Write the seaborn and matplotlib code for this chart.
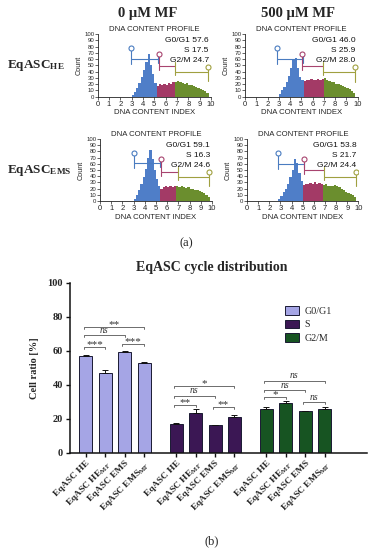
import numpy as np
import pandas as pd
import matplotlib
matplotlib.use("Agg")
import matplotlib.pyplot as plt
import seaborn as sns

sns.set_theme(style="ticks")
plt.rcParams['font.family'] = ['Liberation Sans', 'DejaVu Sans']
plt.rcParams['mathtext.fontset'] = 'custom'
plt.rcParams['mathtext.rm'] = 'Liberation Serif'
plt.rcParams['mathtext.bf'] = 'Liberation Serif:bold'
plt.rcParams['mathtext.it'] = 'Liberation Serif:italic'
SERIF = 'Liberation Serif'

# ---------------- DATA ----------------
# histogram bins (DNA content index), width 0.2 from 2.8 to 9.8
hist_edges = [round(2.8 + 0.2 * i, 2) for i in range(36)]
hist_he_0 = [0, 3, 8, 14, 22, 32, 42, 55, 68, 50, 36, 22, 17, 20, 18, 21, 19, 22,
             20, 24, 23, 25, 23, 22, 21, 22, 19, 18, 17, 15, 14, 13, 11, 9, 6]
hist_he_500 = [0, 4, 10, 16, 24, 33, 45, 60, 62, 45, 32, 26, 25, 27, 26, 28, 26, 27,
               28, 27, 29, 30, 27, 25, 24, 23, 21, 20, 19, 17, 15, 14, 12, 9, 6]
hist_ems_0 = [0, 4, 10, 18, 27, 38, 52, 70, 82, 68, 50, 35, 24, 20, 22, 24, 22, 24,
              23, 25, 24, 23, 24, 22, 21, 22, 20, 19, 18, 17, 16, 14, 13, 10, 7]
hist_ems_500 = [3, 8, 14, 20, 28, 38, 50, 68, 62, 45, 32, 26, 28, 27, 29, 28, 30, 28,
                29, 27, 26, 27, 25, 24, 25, 26, 24, 22, 20, 18, 15, 13, 11, 9, 6]
hist_splits = [(5.2, 6.8), (5.2, 7.0), (5.4, 6.8), (5.0, 6.8)]
hist_stats = [(57.6, 17.5, 24.7), (46.0, 25.9, 28.0), (59.1, 16.3, 24.6), (53.8, 21.7, 24.4)]
# gates: (x0, x1, y_line, y_circle) for G0/G1, S, G2/M
hist_gates = [
    [(2.9, 5.3, 60, 77), (5.4, 6.85, 48.5, 68), (6.85, 9.7, 39.5, 47)],
    [(2.87, 5.15, 60, 77), (5.1, 6.93, 49, 68), (6.93, 9.75, 39, 47)],
    [(3.0, 5.4, 61, 77), (5.45, 6.96, 47, 67), (6.96, 9.75, 39, 47)],
    [(2.8, 5.1, 60, 77), (5.1, 6.9, 50, 68), (6.9, 9.8, 39, 47)],
]

phases = ['G0/G1', 'S', 'G2/M']
samples = ['EqASC HE', r'EqASC HE$_{\mathbf{MF}}$', 'EqASC EMS', r'EqASC EMS$_{\mathbf{MF}}$']
g0g1 = [57.3, 47.3, 59.4, 53.1]
g0g1_err = [0.4, 1.5, 0.4, 0.4]
s_phase = [17.3, 23.3, 16.2, 21.4]
s_err = [0.3, 2.3, 0.2, 1.0]
g2m = [25.7, 29.2, 24.7, 25.7]
g2m_err = [1.3, 1.3, 0.3, 1.5]
# significance: (phase index, bar a, bar b, height, label)
sig = [
    (0, 0, 1, 62.4, '***'), (0, 0, 2, 69.4, 'ns'), (0, 0, 3, 74.1, '**'), (0, 2, 3, 64.1, '***'),
    (1, 0, 1, 28.2, '**'), (1, 0, 2, 33.7, 'ns'), (1, 0, 3, 39.6, '*'), (1, 2, 3, 27.0, '**'),
    (2, 0, 1, 33.1, '*'), (2, 0, 2, 37.0, 'ns'), (2, 0, 3, 42.5, 'ns'), (2, 2, 3, 30.0, 'ns'),
]

# ---------------- FIGURE ----------------
W, H = 372, 550
fig = plt.figure(figsize=(W / 100, H / 100), dpi=100)
fig.patch.set_facecolor('white')

def fbox(x0, y0, x1, y1):
    return [x0 / W, 1 - y1 / H, (x1 - x0) / W, (y1 - y0) / H]

hist_pal = {'G0/G1': '#4f7ec8', 'S': '#a33a66', 'G2/M': '#6b8e2e'}
gate_cols = ['#4a7cc0', '#a8446f', '#a0a040']
hist_boxes = [fbox(97.7, 34, 211, 96.7), fbox(245, 34, 357.5, 96.7),
              fbox(100, 139, 212, 201), fbox(247, 139, 358.5, 201)]
hist_data = [hist_he_0, hist_he_500, hist_ems_0, hist_ems_500]

centers = [round((hist_edges[i] + hist_edges[i + 1]) / 2, 2) for i in range(len(hist_edges) - 1)]
for k in range(4):
    ax = fig.add_axes(hist_boxes[k])
    a, b = hist_splits[k]
    ph = ['G0/G1' if c < a else ('S' if c < b else 'G2/M') for c in centers]
    dfh = pd.DataFrame({'x': centers, 'count': hist_data[k], 'phase': ph})
    sns.histplot(data=dfh, x='x', weights='count', hue='phase', hue_order=phases,
                 bins=hist_edges, palette=hist_pal, multiple='layer', element='bars',
                 fill=True, alpha=1, linewidth=0, legend=False, ax=ax)
    ax.set_xlim(0, 10)
    ax.set_ylim(0, 100)
    ax.set_xticks(range(0, 11))
    ax.set_yticks(range(0, 101, 10))
    ax.tick_params(axis='x', labelsize=5.5, length=2, width=0.5, pad=1)
    ax.tick_params(axis='y', labelsize=4.3, length=2, width=0.5, pad=0.5)
    for sp in ['top', 'right']:
        ax.spines[sp].set_visible(False)
    for sp in ['left', 'bottom']:
        ax.spines[sp].set_linewidth(0.6)
        ax.spines[sp].set_color('#222222')
    ax.set_facecolor('white')
    ax.set_xlabel('DNA CONTENT INDEX', fontsize=5.6, labelpad=1)
    ax.set_ylabel('Count', fontsize=5.2, labelpad=1)
    ax.set_title('DNA CONTENT PROFILE', fontsize=5.6, pad=2)
    st = hist_stats[k]
    for txt, yy in zip(['G0/G1 %.1f' % st[0], 'S %.1f' % st[1], 'G2/M %.1f' % st[2]], [90, 74, 58]):
        ax.text(9.8, yy, txt, ha='right', va='center', fontsize=6.0, color='#111111')
    gts = hist_gates[k]
    # G0/G1 gate
    x0, x1, yl, yc = gts[0]
    ax.plot([x0, x0], [yl - 8, yc], color=gate_cols[0], lw=0.8)
    ax.plot([x0, x1], [yl, yl], color=gate_cols[0], lw=0.8)
    ax.plot([x1, x1], [yl - 6, yl + 6], color=gate_cols[0], lw=0.8)
    ax.plot([x0], [yc], 'o', mfc='white', mec=gate_cols[0], ms=3.6, mew=0.8)
    # S gate
    x0, x1, yl, yc = gts[1]
    ax.plot([x0, x0], [yl - 6.5, yc], color=gate_cols[1], lw=0.8)
    ax.plot([x0, x1], [yl, yl], color=gate_cols[1], lw=0.8)
    ax.plot([x0], [yc], 'o', mfc='white', mec=gate_cols[1], ms=3.6, mew=0.8)
    # G2/M gate
    x0, x1, yl, yc = gts[2]
    ax.plot([x0, x0], [yl - 5, yl + 16], color=gate_cols[2], lw=0.8)
    ax.plot([x0, x1], [yl, yl], color=gate_cols[2], lw=0.8)
    ax.plot([x1, x1], [yl - 15, yc], color=gate_cols[2], lw=0.8)
    ax.plot([x1], [yc], 'o', mfc='white', mec=gate_cols[2], ms=3.6, mew=0.8)

# panel (a) labels
fig.text(148 / W, 1 - 17 / H, u'0 \u00b5M MF', ha='center', va='baseline',
         fontsize=10.5, fontweight='bold', family=SERIF)
fig.text(298 / W, 1 - 17 / H, u'500 \u00b5M MF', ha='center', va='baseline',
         fontsize=10.5, fontweight='bold', family=SERIF)
fig.text(7 / W, 1 - 68.3 / H, r'EqASC$_{\mathbf{HE}}$', ha='left', va='baseline',
         fontsize=9.5, fontweight='bold', family=SERIF)
fig.text(7 / W, 1 - 173.3 / H, r'EqASC$_{\mathbf{EMS}}$', ha='left', va='baseline',
         fontsize=9.5, fontweight='bold', family=SERIF)
fig.text(186 / W, 1 - 243 / H, '(a)', ha='center', va='center', fontsize=9, family=SERIF)

# ---------------- BAR CHART ----------------
bar_pal = {'G0/G1': '#9a9af0', 'S': '#3d0d5e', 'G2/M': '#0d5e1c'}
vals = [g0g1, s_phase, g2m]
errs = [g0g1_err, s_err, g2m_err]
rows = []
for gi, p in enumerate(phases):
    for i, smp in enumerate(samples):
        rows.append({'pos': gi * 4.65 + i, 'ratio': vals[gi][i], 'err': errs[gi][i],
                     'phase': p, 'sample': smp})
dfb = pd.DataFrame(rows)

axb = fig.add_axes(fbox(70, 283, 367, 453))
sns.barplot(data=dfb, x='pos', y='ratio', hue='phase', hue_order=phases, palette=bar_pal,
            native_scale=True, dodge=False, width=0.67, edgecolor='#1a1a33', linewidth=0.7,
            errorbar=None, ax=axb)
axb.errorbar(dfb['pos'], dfb['ratio'], yerr=[np.zeros(len(dfb)), dfb['err']], fmt='none',
             ecolor='#111111', elinewidth=0.7, capsize=2, capthick=0.7)
axb.set_xlim(-0.82, 14.48)
axb.set_ylim(0, 100)
axb.set_yticks([0, 20, 40, 60, 80, 100])
axb.set_yticklabels(['0', '20', '40', '60', '80', '100'], fontsize=7.5, fontweight='bold', family=SERIF)
axb.set_xticks(dfb['pos'])
axb.set_xticklabels(dfb['sample'], rotation=45, ha='right', rotation_mode='anchor',
                    fontsize=6.8, fontweight='bold', family=SERIF)
axb.tick_params(axis='both', length=3, width=1.0, color='#111111', pad=2)
axb.tick_params(axis='x', pad=1.5)
for sp in ['top', 'right']:
    axb.spines[sp].set_visible(False)
for sp in ['left', 'bottom']:
    axb.spines[sp].set_linewidth(1.1)
    axb.spines[sp].set_color('#111111')
axb.set_xlabel('')
axb.set_ylabel('Cell ratio [%]', fontsize=7.5, fontweight='bold', family=SERIF, labelpad=6)
axb.set_facecolor('white')

for gi, a, b, yy, lab in sig:
    xa = gi * 4.65 + a - 0.12
    xb = gi * 4.65 + b
    axb.plot([xa, xa, xb, xb], [yy - 1.4, yy, yy, yy - 1.4], color='#555555', lw=0.6)
    if lab == 'ns':
        axb.text((xa + xb) / 2, yy + 0.2, lab, ha='center', va='bottom', fontsize=7,
                 style='italic', family=SERIF, color='#333333')
    else:
        axb.text((xa + xb) / 2, yy - 1.2, lab, ha='center', va='bottom', fontsize=8,
                 family=SERIF, color='#333333')

sns.move_legend(axb, loc='upper left', bbox_to_anchor=(0.725, 0.865), frameon=False, title=None,
                prop={'family': SERIF, 'size': 7.2}, handlelength=1.4, handleheight=0.95,
                labelspacing=0.38, handletextpad=0.55, borderaxespad=0, borderpad=0)

fig.text(212 / W, 1 - 268 / H, 'EqASC cycle distribution', ha='center', va='center',
         fontsize=10, fontweight='bold', family=SERIF)
fig.text(212 / W, 1 - 541.5 / H, '(b)', ha='center', va='center', fontsize=9, family=SERIF)

fig.savefig('out.png', dpi=100, facecolor='white')
